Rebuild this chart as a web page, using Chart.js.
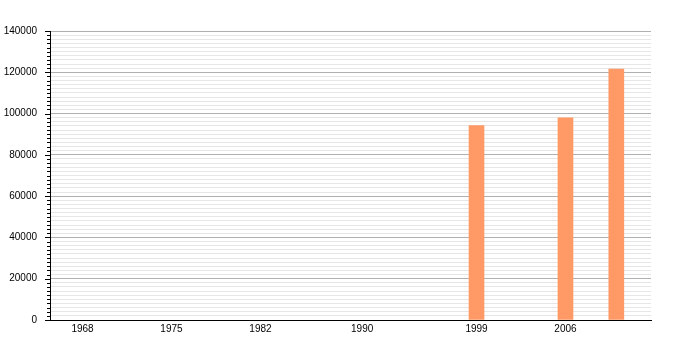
<!DOCTYPE html>
<html>
<head>
<meta charset="utf-8">
<script src="https://cdn.jsdelivr.net/npm/chart.js@4/dist/chart.umd.min.js"></script>
<style>
  html, body { margin: 0; padding: 0; background: #fff; }
  #wrap { position: relative; width: 700px; height: 350px; }
</style>
</head>
<body>
<div id="wrap"><canvas id="chart"></canvas></div>
<script>
// Données
const years = [1999, 2006, 2010];
const population = [94200, 97900, 121600];
const yearLabels = [1968, 1975, 1982, 1990, 1999, 2006];
const yMax = 140000;
const yMajor = 20000;
const yMinor = 2000;

// Petits traits de l'axe Y (majeurs plus longs que mineurs)
const axisTicks = {
    id: 'axisTicks',
    afterDraw(chart) {
        const y = chart.scales.y;
        const ctx = chart.ctx;
        const x0 = y.right;
        ctx.save();
        ctx.strokeStyle = '#000';
        ctx.lineWidth = 1;
        y.ticks.forEach(t => {
            const py = Math.round(y.getPixelForValue(t.value)) + 0.5;
            const len = t.value % yMajor === 0 ? 5 : 3;
            ctx.beginPath();
            ctx.moveTo(x0 - len, py);
            ctx.lineTo(x0, py);
            ctx.stroke();
        });
        ctx.restore();
    }
};

Chart.defaults.font.family = '"Liberation Sans", Arial, sans-serif';
Chart.defaults.font.size = 10;
Chart.defaults.color = '#000';

new Chart(document.getElementById('chart'), {
    type: 'bar',
    data: {
        datasets: [{
            data: years.map((yr, i) => ({ x: yr, y: population[i] })),
            backgroundColor: '#ff9966',
            borderWidth: 0,
            barThickness: 15
        }]
    },
    options: {
        responsive: true,
        maintainAspectRatio: false,
        animation: false,
        layout: { padding: { left: 0, right: 49, top: 31, bottom: 0 } },
        plugins: { legend: { display: false }, tooltip: { enabled: false } },
        scales: {
            x: {
                type: 'linear',
                offset: false,
                min: 1965.44,
                max: 2012.73,
                afterBuildTicks: s => { s.ticks = yearLabels.map(v => ({ value: v })); },
                afterFit: s => { s.height = 30; },
                grid: { display: false, drawTicks: false, offset: false },
                border: { color: '#000', width: 1 },
                ticks: {
                    autoSkip: false,
                    maxRotation: 0,
                    padding: 3,
                    callback: v => String(v)
                }
            },
            y: {
                min: 0,
                max: yMax,
                afterFit: s => { s.width = 50; },
                grid: {
                    drawTicks: false,
                    color: c => c.tick.value % yMajor === 0 ? '#b0b0b0' : '#e6e6e6',
                    lineWidth: 1
                },
                border: { color: '#000', width: 1 },
                ticks: {
                    stepSize: yMinor,
                    autoSkip: false,
                    padding: 13,
                    callback: v => v % yMajor === 0 ? String(v) : ''
                }
            }
        }
    },
    plugins: [axisTicks]
});
</script>
</body>
</html>
